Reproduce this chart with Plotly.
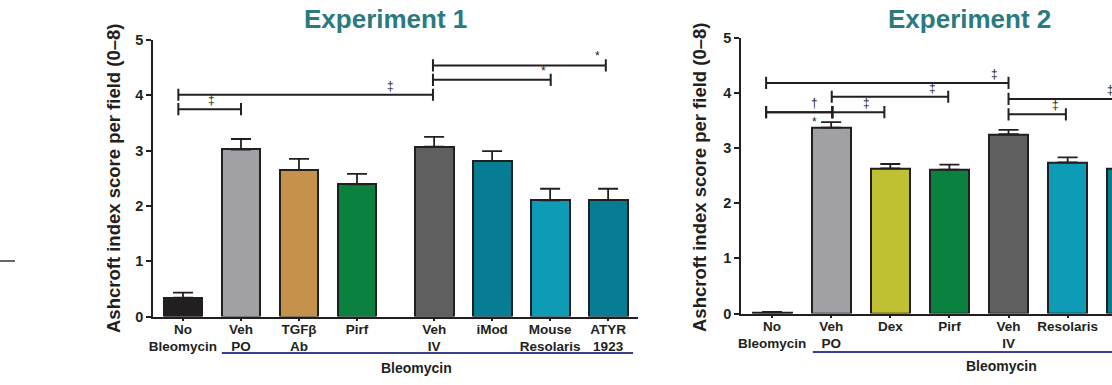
import plotly.graph_objects as go

W, H = 1112, 385
FONT = "Liberation Sans, Arial, Helvetica, sans-serif"
INK = "#231f20"

# ---------------- Data: Experiment 1 ----------------
exp1_labels = ["No<br>Bleomycin", "Veh<br>PO", "TGFβ<br>Ab", "Pirf", "Veh<br>IV",
               "iMod", "Mouse<br>Resolaris", "ATYR<br>1923"]
exp1_pos = [0, 1, 2, 3, 4.33, 5.33, 6.33, 7.33]
exp1_mean = [0.34, 3.02, 2.65, 2.39, 3.07, 2.81, 2.10, 2.11]
exp1_sem = [0.09, 0.19, 0.20, 0.19, 0.18, 0.18, 0.21, 0.20]
exp1_colors = ["#231f20", "#a1a1a5", "#c4924a", "#0b8140", "#5f5f5f",
               "#077d94", "#0e9bb5", "#077d94"]
# (from, to, height, label, label_x, label_side)
exp1_brackets = [
    (-0.08, 1.00, 3.75, "‡", 0.50, "above"),
    (-0.08, 4.31, 4.01, "‡", 3.57, "above"),
    (4.31, 6.34, 4.28, "*", 6.22, "above"),
    (4.31, 7.29, 4.54, "*", 7.14, "above"),
]

# ---------------- Data: Experiment 2 ----------------
exp2_labels = ["No<br>Bleomycin", "Veh<br>PO", "Dex", "Pirf", "Veh<br>IV",
               "Resolaris", "ATYR<br>1923"]
exp2_pos = [0, 1, 2, 3, 4, 5, 6]
exp2_mean = [0.02, 3.37, 2.63, 2.61, 3.25, 2.74, 2.63]
exp2_sem = [0.01, 0.10, 0.08, 0.09, 0.08, 0.09, 0.09]
exp2_colors = ["#231f20", "#a1a1a5", "#bfc133", "#0b8140", "#5f5f5f",
               "#0e9bb5", "#077d94"]
exp2_brackets = [
    (-0.10, 4.00, 4.18, "‡", 3.76, "above"),
    (1.01, 2.98, 3.93, "‡", 2.71, "above"),
    (-0.10, 1.02, 3.65, "†", 0.71, "above"),
    (-0.10, 1.02, 3.65, "*", 0.71, "below"),
    (1.02, 1.90, 3.65, "‡", 1.59, "above"),
    (4.00, 6.00, 3.89, "‡", 5.72, "above"),
    (4.00, 4.97, 3.61, "‡", 4.80, "above"),
]
yticks = [0, 1, 2, 3, 4, 5]
ytitle = "Ashcroft index score per field (0–8)"


def px_x(px):
    return px / W


def px_y(py):
    return 1 - py / H


fig = go.Figure()
annotations = []
shapes = []


def add_panel(pos, mean, sem, colors, labels, brackets, xa, ya, bar_w, tick_h):
    fig.add_trace(go.Bar(
        x=pos, y=mean, width=bar_w,
        marker=dict(color=colors, line=dict(color=INK, width=2)),
        error_y=dict(type="data", symmetric=False, array=sem,
                     arrayminus=[0] * len(sem), color=INK, thickness=1.8, width=10),
        xaxis=xa, yaxis=ya, showlegend=False, hoverinfo="skip",
    ))
    for (a, b, h, lab, lx, side) in brackets:
        xs = [a, a, None, a, b, None, b, b]
        ys = [h - tick_h, h + tick_h, None, h, h, None, h - tick_h, h + tick_h]
        fig.add_trace(go.Scatter(
            x=xs, y=ys, mode="lines", line=dict(color=INK, width=2),
            xaxis=xa, yaxis=ya, showlegend=False, hoverinfo="skip",
        ))
        annotations.append(dict(
            x=lx, y=h, xref=xa, yref=ya, text=lab, showarrow=False,
            xanchor="center",
            yanchor="bottom" if side == "above" else "top",
            yshift=0 if side == "above" else -1,
            font=dict(family=FONT, size=12, color=INK),
        ))


add_panel(exp1_pos, exp1_mean, exp1_sem, exp1_colors, exp1_labels, exp1_brackets,
          "x", "y", 0.67, 0.11)
add_panel(exp2_pos, exp2_mean, exp2_sem, exp2_colors, exp2_labels, exp2_brackets,
          "x2", "y2", 0.66, 0.11)

axis_common = dict(showline=True, linecolor=INK, linewidth=1.6, showgrid=False,
                   zeroline=False, ticks="outside", tickcolor=INK, tickwidth=1.5,
                   automargin=False)

fig.update_layout(
    width=W, height=H, autosize=False,
    margin=dict(l=0, r=0, t=0, b=0, pad=0, autoexpand=False),
    paper_bgcolor="white", plot_bgcolor="white",
    bargap=0,
    xaxis=dict(domain=[px_x(153), px_x(638)], range=[-0.517, 7.845],
               tickvals=exp1_pos, ticktext=["<b>%s</b>" % t for t in exp1_labels],
               ticklen=3, ticklabelstandoff=-4,
               tickfont=dict(family=FONT, size=13.5, color=INK),
               anchor="y", **axis_common),
    yaxis=dict(domain=[px_y(316.5), px_y(40)], range=[0, 5],
               tickvals=yticks, ticktext=["<b>%d</b>" % v for v in yticks],
               ticklen=5, tickfont=dict(family=FONT, size=14.5, color=INK),
               anchor="x", **axis_common),
    xaxis2=dict(domain=[px_x(741), 1.0], range=[-0.525, 5.75],
                tickvals=exp2_pos[:6], ticktext=["<b>%s</b>" % t for t in exp2_labels[:6]],
                ticklen=3, ticklabelstandoff=-4,
                tickfont=dict(family=FONT, size=13.5, color=INK),
                anchor="y2", **axis_common),
    yaxis2=dict(domain=[px_y(313.5), px_y(37.7)], range=[0, 5],
                tickvals=yticks, ticktext=["<b>%d</b>" % v for v in yticks],
                ticklen=5, tickfont=dict(family=FONT, size=14.5, color=INK),
                anchor="x2", **axis_common),
)


def paper_text(xpx, ypx, text, size, color=INK, angle=0):
    annotations.append(dict(x=px_x(xpx), y=px_y(ypx), xref="paper", yref="paper",
                            text=text, showarrow=False, textangle=angle,
                            xanchor="center", yanchor="middle",
                            font=dict(family=FONT, size=size, color=color)))


# partially visible last label of experiment 2
annotations.append(dict(x=exp2_pos[6], y=px_y(321), xref="x2", yref="paper",
                        text="<b>%s</b>" % exp2_labels[6], showarrow=False,
                        xanchor="center", yanchor="top",
                        font=dict(family=FONT, size=13.5, color=INK)))

paper_text(385, 19, "<b>Experiment 1</b>", 26, "#2b7a80")
paper_text(969, 19, "<b>Experiment 2</b>", 26, "#2b7a80")
paper_text(113, 179, "<b>%s</b>" % ytitle, 18.5, angle=-90)
paper_text(700, 178, "<b>%s</b>" % ytitle, 18.5, angle=-90)
paper_text(416, 368, "<b>Bleomycin</b>", 14)
paper_text(1001, 366, "<b>Bleomycin</b>", 14)

# group underline
shapes.append(dict(type="line", xref="x", yref="paper", x0=0.67, x1=7.76,
                   y0=px_y(353), y1=px_y(353), line=dict(color="#3b3f8c", width=2)))
shapes.append(dict(type="line", xref="x2", yref="paper", x0=0.69, x1=6.5,
                   y0=px_y(352), y1=px_y(352), line=dict(color="#3b3f8c", width=2)))
# left-edge fragment
shapes.append(dict(type="line", xref="paper", yref="paper", x0=0, x1=px_x(15),
                   y0=px_y(261), y1=px_y(261), line=dict(color="#333333", width=1.5)))

fig.update_layout(annotations=annotations, shapes=shapes)
fig.write_html("out.html", config={"displayModeBar": False})
